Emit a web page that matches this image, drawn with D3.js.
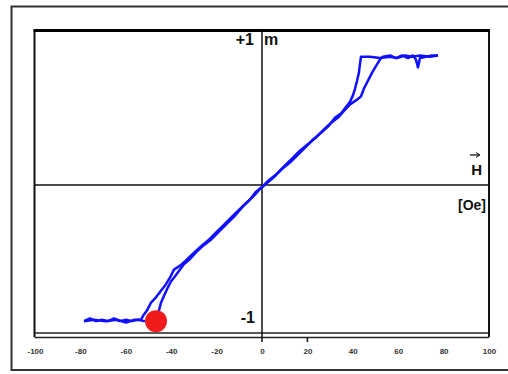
<!DOCTYPE html>
<html>
<head>
<meta charset="utf-8">
<script src="https://cdn.jsdelivr.net/npm/d3@7"></script>
<style>
  body { margin: 0; background: #fff; }
  svg { display: block; font-family: "Liberation Sans", Arial, sans-serif; }
</style>
</head>
<body>
<div id="chart"></div>
<script>
// tick labels on H axis
var hTicks = [-100, -80, -60, -40, -20, 0, 20, 40, 60, 80, 100]
var hTickLabels = ['-100', '-80', '-60', '-40', '-20', '0', '20', '40', '60', '80', '100']

// increasing field branch (H in Oe, m normalised)
var upH = [-78.4, -75.8, -73.1, -70.5, -67.8, -65.2, -62.6, -59.9, -57.3, -54.6, -52.0, -49.3, -47.1, -45.8, -45.4, -44.5, -43.2, -41.9, -40.1, -38.3, -36.6, -34.4, -31.7, -29.1, -26.0, -22.9, -19.4, -15.9, -12.3, -8.8, -5.3, -2.6, 0, 2.6, 6.2, 9.7, 13.2, 16.7, 20.3, 23.8, 27.3, 30.4, 33.5, 36.1, 38.8, 41.4, 43.6, 44.9, 46.7, 48.5, 50.2, 52.0, 53.3, 56.4, 59.0, 61.7, 64.3, 66.5, 67.8, 68.7, 69.6, 72.2, 74.9, 77.5]
var upM = [-1.03, -1.01, -1.03, -1.02, -1.03, -1.01, -1.03, -1.02, -1.03, -1.02, -1.03, -1.02, -1.03, -1.01, -0.95, -0.89, -0.84, -0.79, -0.73, -0.69, -0.65, -0.60, -0.56, -0.51, -0.46, -0.42, -0.36, -0.30, -0.24, -0.17, -0.11, -0.05, -0.015, 0.03, 0.08, 0.14, 0.20, 0.26, 0.31, 0.36, 0.42, 0.47, 0.51, 0.56, 0.61, 0.64, 0.67, 0.73, 0.79, 0.85, 0.90, 0.95, 0.97, 0.98, 0.96, 0.98, 0.96, 0.98, 0.95, 0.89, 0.96, 0.97, 0.98, 0.98]

// decreasing field branch
var downH = [77.5, 74.0, 69.6, 66.1, 63.0, 59.5, 56.4, 52.0, 47.6, 43.6, 43.2, 42.7, 41.9, 41.0, 40.1, 38.8, 37.0, 34.8, 32.2, 29.5, 26.4, 22.9, 19.4, 15.9, 12.3, 8.8, 5.3, 1.8, -0.9, -3.5, -6.6, -9.7, -13.2, -16.7, -20.3, -23.8, -27.3, -30.4, -33.5, -36.1, -38.8, -40.5, -42.3, -44.5, -46.7, -48.9, -50.7, -52.4, -53.3, -56.4, -59.9, -64.0, -69.0, -74.0, -78.4]
var downM = [0.98, 0.97, 0.98, 0.97, 0.98, 0.96, 0.97, 0.96, 0.97, 0.97, 0.92, 0.85, 0.79, 0.73, 0.68, 0.63, 0.59, 0.54, 0.51, 0.45, 0.40, 0.35, 0.29, 0.23, 0.17, 0.12, 0.06, 0.01, -0.03, -0.08, -0.13, -0.18, -0.24, -0.30, -0.36, -0.42, -0.47, -0.52, -0.57, -0.61, -0.64, -0.70, -0.75, -0.80, -0.85, -0.89, -0.95, -0.99, -1.02, -1.02, -1.04, -1.02, -1.03, -1.02, -1.03]

// red marker
var markerH = -46.7
var markerM = -1.03

var width = 508, height = 374

var svg = d3.select('#chart')
  .append('svg')
  .attr('width', width)
  .attr('height', height)

var xS = d3.scaleLinear().domain([-100, 100]).range([35, 489])
var yS = d3.scaleLinear().domain([-1.15, 1.15]).range([337, 33])

// outer box
svg.append('rect')
  .attr('x', 11.5).attr('y', 6.5)
  .attr('width', 510).attr('height', 363.5)
  .style('fill', 'none')
  .style('stroke', '#333')
  .style('stroke-width', 2)

// inner frame
var frL = 34.5, frR = 489, frT = 30.5, frB = 333
svg.append('line').attr('x1', frL).attr('x2', frL).attr('y1', frT).attr('y2', 337)
  .style('stroke', '#111').style('stroke-width', 2)
svg.append('line').attr('x1', frR).attr('x2', frR).attr('y1', frT).attr('y2', 337)
  .style('stroke', '#111').style('stroke-width', 2)
svg.append('line').attr('x1', frL - 1).attr('x2', frR + 1).attr('y1', frT).attr('y2', frT)
  .style('stroke', '#000').style('stroke-width', 3)
svg.append('line').attr('x1', frL).attr('x2', frR).attr('y1', frB).attr('y2', frB)
  .style('stroke', '#222').style('stroke-width', 1.5)
svg.append('line').attr('x1', frL).attr('x2', frR).attr('y1', frB + 4.5).attr('y2', frB + 4.5)
  .style('stroke', '#222').style('stroke-width', 1.5)

// zero axes
svg.append('line').attr('x1', frL).attr('x2', frR).attr('y1', yS(0)).attr('y2', yS(0))
  .style('stroke', '#111').style('stroke-width', 1.5)
svg.append('line').attr('x1', xS(0)).attr('x2', xS(0)).attr('y1', frT).attr('y2', 342)
  .style('stroke', '#111').style('stroke-width', 1.5)

// H axis tick labels
var xAxis = d3.axisBottom(xS)
  .tickValues(hTicks)
  .tickFormat(function (d, i) { return hTickLabels[i] })
  .tickSize(0)
  .tickPadding(0)

var gx = svg.append('g')
  .attr('transform', 'translate(0,348)')
  .call(xAxis)
gx.select('.domain').remove()
gx.selectAll('text')
  .style('font-size', '8px')
  .style('font-weight', 'bold')
  .style('fill', '#333')
  .style('font-family', '"Liberation Sans", Arial, sans-serif')

// small tick below the frame at +20
svg.append('line').attr('x1', xS(20)).attr('x2', xS(20)).attr('y1', 338).attr('y2', 342)
  .style('stroke', '#111').style('stroke-width', 1.5)

// loop
var line = d3.line()
  .x(function (d) { return xS(d[0]) })
  .y(function (d) { return yS(d[1]) })

var upData = upH.map(function (h, i) { return [h, upM[i]] })
var downData = downH.map(function (h, i) { return [h, downM[i]] })

svg.append('path')
  .datum(upData)
  .attr('d', line)
  .style('fill', 'none')
  .style('stroke', '#1010ff')
  .style('stroke-width', 2.5)
  .style('stroke-linejoin', 'round')

svg.append('path')
  .datum(downData)
  .attr('d', line)
  .style('fill', 'none')
  .style('stroke', '#1010ff')
  .style('stroke-width', 2.5)
  .style('stroke-linejoin', 'round')

svg.append('circle')
  .attr('cx', xS(markerH))
  .attr('cy', yS(markerM))
  .attr('r', 11)
  .style('fill', '#f21b1b')

// labels
var lab = function (txt, x, y, anchor, size) {
  return svg.append('text')
    .text(txt)
    .attr('x', x)
    .attr('y', y)
    .attr('text-anchor', anchor)
    .style('font-size', size + 'px')
    .style('font-weight', 'bold')
    .style('fill', '#111')
}

lab('+1', xS(0) - 8, 45, 'end', 16)
lab('m', xS(0) + 2, 45, 'start', 16)
lab('-1', xS(0) - 7, 323, 'end', 16)
lab('H', 482, 175, 'end', 15)
lab('[Oe]', 486, 210, 'end', 14)

// arrow over H
svg.append('line').attr('x1', 470).attr('x2', 479).attr('y1', 155).attr('y2', 155)
  .style('stroke', '#111').style('stroke-width', 1.3)
svg.append('path').attr('d', 'M476,152.5 L480,155 L476,157.5')
  .style('fill', 'none').style('stroke', '#111').style('stroke-width', 1)
</script>
</body>
</html>
